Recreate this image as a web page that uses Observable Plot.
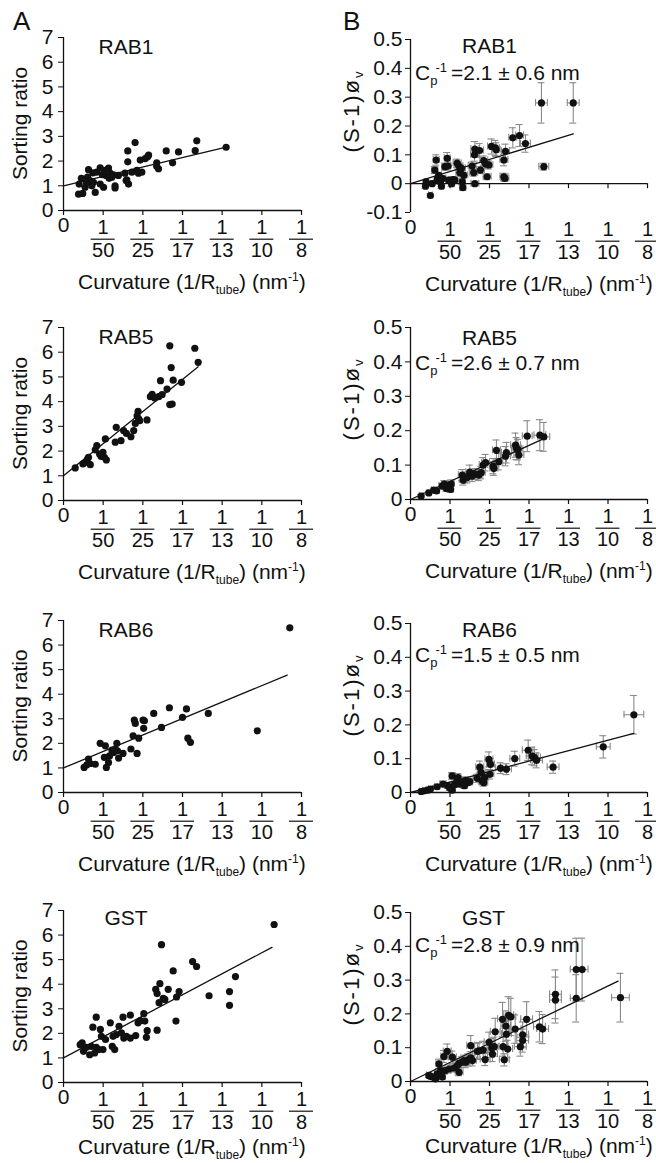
<!DOCTYPE html>
<html>
<head>
<meta charset="utf-8">
<script src="https://cdn.jsdelivr.net/npm/d3@7"></script>
<script src="https://cdn.jsdelivr.net/npm/@observablehq/plot@0.6"></script>
<style>
  html, body { margin: 0; padding: 0; background: #fff; }
  #fig { position: relative; width: 656px; height: 1163px; overflow: hidden; background: #fff; }
</style>
</head>
<body>
<div id="fig"></div>
<script>
// ---------------- tick labels / categories ----------------
const xTickValues = [0, 0.02, 0.04, 0.06, 0.08, 0.10, 0.12];
const xTickDenominators = ["50", "25", "17", "13", "10", "8"];
const sortYTicks = [0, 1, 2, 3, 4, 5, 6, 7];
const phiYTicksRab1 = [-0.1, 0, 0.1, 0.2, 0.3, 0.4, 0.5];
const phiYTicks = [0, 0.1, 0.2, 0.3, 0.4, 0.5];
const proteins = ["RAB1", "RAB5", "RAB6", "GST"];
const cpValues = ["2.1 ± 0.6", "2.6 ± 0.7", "1.5 ± 0.5", "2.8 ± 0.9"];

// ---------------- column A: sorting ratio ----------------
const rab1SortX = [0.0076,0.0097,0.0079,0.0109,0.0126,0.0121,0.0134,0.0151,0.0160,0.0143,0.0168,0.0185,0.0185,0.0202,0.0210,0.0215,0.0227,0.0235,0.0244,0.0252,0.0260,0.0260,0.0277,0.0310,0.0319,0.0328,0.0324,0.0324,0.0345,0.0361,0.0370,0.0378,0.0395,0.0387,0.0412,0.0429,0.0424,0.0470,0.0479,0.0470,0.0518,0.0550,0.0580,0.0664,0.0672,0.0820,0.0090,0.0116,0.0148,0.0196,0.0230,0.0316];
const rab1SortY = [0.66,0.69,1.07,0.94,1.65,1.35,1.21,1.14,0.73,1.00,1.55,1.73,1.07,0.94,1.62,1.42,1.72,1.51,1.35,1.44,1.00,0.91,1.42,1.51,1.24,1.07,1.97,2.41,1.55,2.75,1.62,1.51,1.55,2.04,2.10,2.24,2.17,1.93,1.69,1.79,2.41,1.93,2.37,2.42,2.82,2.56,1.30,1.12,1.52,1.45,1.30,1.21];
const rab1SortFitX = [0, 0.0821];
const rab1SortFitY = [1, 2.56];

const rab5SortX = [0.0059,0.0098,0.0115,0.0121,0.0135,0.0126,0.0160,0.0168,0.0182,0.0190,0.0199,0.0206,0.0216,0.0211,0.0261,0.0266,0.0290,0.0303,0.0317,0.0340,0.0354,0.0362,0.0371,0.0379,0.0376,0.0384,0.0421,0.0438,0.0447,0.0460,0.0480,0.0489,0.0497,0.0522,0.0536,0.0543,0.0553,0.0536,0.0548,0.0595,0.0662,0.0679];
const rab5SortY = [1.32,1.48,1.55,1.68,1.45,1.75,2.05,2.22,1.88,1.78,1.95,1.75,1.64,2.49,2.36,2.96,2.42,2.83,2.72,2.58,2.83,3.12,3.43,3.30,3.61,3.23,3.26,4.20,4.30,4.15,4.20,4.85,4.28,4.51,6.26,5.38,4.87,3.88,3.90,4.78,6.16,5.59];
const rab5SortFitX = [0, 0.0679];
const rab5SortFitY = [1, 5.41];

const rab6SortX = [0.0104,0.0118,0.0126,0.0135,0.0160,0.0185,0.0206,0.0211,0.0216,0.0227,0.0232,0.0244,0.0252,0.0260,0.0269,0.0272,0.0278,0.0300,0.0340,0.0351,0.0357,0.0362,0.0371,0.0379,0.0401,0.0408,0.0404,0.0455,0.0494,0.0534,0.0600,0.0620,0.0627,0.0640,0.0730,0.0977,0.1141];
const rab6SortY = [1.02,1.13,1.36,1.18,1.15,2.00,1.43,1.90,1.02,1.22,1.49,1.73,1.63,1.77,2.00,1.70,1.40,1.59,1.77,2.31,2.95,2.81,1.59,2.21,2.95,2.92,2.61,3.22,2.65,3.45,3.06,3.40,2.21,2.04,3.22,2.51,6.70];
const rab6SortFitX = [0, 0.1128];
const rab6SortFitY = [1, 4.78];

const gstSortX = [0.0094,0.0084,0.0101,0.0115,0.0132,0.0140,0.0148,0.0157,0.0165,0.0165,0.0179,0.0186,0.0191,0.0199,0.0212,0.0236,0.0246,0.0250,0.0258,0.0266,0.0280,0.0292,0.0300,0.0304,0.0317,0.0337,0.0337,0.0364,0.0376,0.0388,0.0405,0.0410,0.0422,0.0418,0.0472,0.0465,0.0472,0.0486,0.0482,0.0494,0.0503,0.0511,0.0528,0.0553,0.0567,0.0570,0.0583,0.0651,0.0671,0.0734,0.0837,0.0837,0.0867,0.1062];
const gstSortY = [1.61,1.54,1.27,1.43,1.13,1.47,2.25,1.20,2.66,1.43,1.34,2.16,1.88,1.34,1.75,2.43,1.47,1.88,1.34,1.95,2.29,2.02,2.66,1.81,1.88,2.74,1.81,1.91,2.43,2.52,2.80,2.50,2.11,1.84,2.13,3.79,3.62,4.02,3.25,5.61,3.42,3.38,3.79,4.54,2.50,3.48,3.70,4.92,4.72,3.53,3.70,3.14,4.31,6.43];
const gstSortFitX = [0, 0.1051];
const gstSortFitY = [1, 5.50];

// ---------------- column B: (S-1)phi_v with error bars ----------------
const rab1PhiX = [0.0076,0.0079,0.0101,0.0110,0.0123,0.0130,0.0135,0.0143,0.0152,0.0157,0.0164,0.0174,0.0186,0.0190,0.0194,0.0208,0.0216,0.0224,0.0236,0.0245,0.0250,0.0258,0.0262,0.0265,0.0270,0.0312,0.0320,0.0324,0.0326,0.0326,0.0350,0.0354,0.0371,0.0380,0.0388,0.0397,0.0410,0.0430,0.0434,0.0473,0.0473,0.0478,0.0481,0.0518,0.0552,0.0582,0.0663,0.0675,0.0824];
const rab1PhiY = [-0.009,0.006,-0.041,0.000,0.047,0.082,0.014,0.029,0.006,-0.009,0.018,0.059,0.088,0.061,0.012,0.000,0.014,0.012,0.071,0.061,0.038,0.053,0.006,-0.014,0.029,0.061,0.038,0.100,0.120,0.000,0.115,0.047,0.080,0.068,0.024,0.065,0.129,0.124,0.118,0.082,0.024,0.018,0.112,0.159,0.167,0.139,0.280,0.059,0.280];
const rab1PhiXErr = [0.001,0.001,0.001,0.001,0.0015,0.0015,0.001,0.0015,0.001,0.001,0.0015,0.0015,0.0015,0.0015,0.0015,0.0015,0.0015,0.0015,0.002,0.002,0.002,0.002,0.0015,0.0015,0.002,0.002,0.002,0.002,0.002,0.002,0.002,0.002,0.002,0.002,0.002,0.002,0.002,0.002,0.002,0.002,0.002,0.002,0.002,0.002,0.002,0.0025,0.003,0.0025,0.003];
const rab1PhiYErr = [0.008,0.008,0.006,0.008,0.012,0.018,0.010,0.010,0.008,0.008,0.010,0.012,0.020,0.014,0.010,0.010,0.010,0.010,0.014,0.014,0.012,0.012,0.010,0.008,0.010,0.014,0.012,0.022,0.026,0.008,0.024,0.012,0.016,0.014,0.010,0.014,0.026,0.026,0.024,0.020,0.012,0.010,0.025,0.035,0.038,0.030,0.070,0.012,0.070];
const rab1PhiFitX = [0, 0.0824];
const rab1PhiFitY = [0, 0.173];

const rab5PhiX = [0.0054,0.0093,0.0118,0.0132,0.0160,0.0172,0.0182,0.0194,0.0203,0.0206,0.0262,0.0267,0.0287,0.0300,0.0312,0.0329,0.0346,0.0358,0.0368,0.0380,0.0419,0.0422,0.0435,0.0447,0.0481,0.0486,0.0532,0.0537,0.0544,0.0549,0.0591,0.0655,0.0675];
const rab5PhiY = [0.010,0.019,0.027,0.025,0.039,0.045,0.032,0.037,0.029,0.045,0.071,0.056,0.064,0.080,0.068,0.074,0.071,0.078,0.100,0.107,0.097,0.090,0.143,0.110,0.126,0.136,0.158,0.148,0.145,0.129,0.184,0.187,0.182];
const rab5PhiXErr = [0.001,0.001,0.0012,0.0012,0.0015,0.0015,0.0015,0.0015,0.0015,0.0015,0.002,0.002,0.002,0.002,0.002,0.002,0.002,0.002,0.002,0.002,0.002,0.002,0.002,0.002,0.0025,0.0025,0.0025,0.0025,0.0025,0.0025,0.0025,0.003,0.003];
const rab5PhiYErr = [0.004,0.005,0.006,0.006,0.008,0.010,0.008,0.010,0.008,0.012,0.016,0.014,0.016,0.020,0.016,0.016,0.016,0.018,0.022,0.024,0.022,0.020,0.030,0.024,0.028,0.030,0.035,0.032,0.030,0.028,0.045,0.045,0.042];
const rab5PhiFitX = [0, 0.0675];
const rab5PhiFitY = [0, 0.177];

const rab6PhiX = [0.0054,0.0071,0.0088,0.0101,0.0135,0.0165,0.0189,0.0199,0.0211,0.0211,0.0223,0.0236,0.0241,0.0250,0.0262,0.0273,0.0279,0.0290,0.0300,0.0338,0.0351,0.0358,0.0363,0.0371,0.0375,0.0397,0.0402,0.0405,0.0456,0.0486,0.0528,0.0596,0.0616,0.0628,0.0638,0.0722,0.0976,0.1131];
const rab6PhiY = [0.003,0.005,0.007,0.010,0.017,0.025,0.020,0.013,0.049,0.007,0.023,0.034,0.044,0.025,0.029,0.020,0.036,0.029,0.032,0.042,0.075,0.059,0.034,0.029,0.044,0.098,0.054,0.083,0.072,0.069,0.100,0.125,0.108,0.103,0.095,0.075,0.135,0.230];
const rab6PhiXErr = [0.001,0.001,0.001,0.001,0.0012,0.0015,0.0015,0.0015,0.0015,0.0015,0.0015,0.0015,0.0015,0.0015,0.0015,0.0015,0.0015,0.0015,0.0015,0.002,0.002,0.002,0.002,0.002,0.002,0.002,0.002,0.002,0.0025,0.0025,0.0025,0.003,0.003,0.003,0.003,0.003,0.0035,0.005];
const rab6PhiYErr = [0.003,0.004,0.004,0.005,0.006,0.008,0.008,0.006,0.010,0.005,0.008,0.010,0.012,0.008,0.010,0.008,0.010,0.008,0.010,0.012,0.018,0.014,0.010,0.010,0.012,0.022,0.014,0.018,0.016,0.016,0.022,0.030,0.026,0.024,0.022,0.018,0.033,0.057];
const rab6PhiFitX = [0, 0.1131];
const rab6PhiFitY = [0, 0.175];

const gstPhiX = [0.0093,0.0102,0.0114,0.0127,0.0136,0.0144,0.0153,0.0161,0.0169,0.0175,0.0186,0.0195,0.0212,0.0220,0.0237,0.0246,0.0246,0.0259,0.0271,0.0280,0.0293,0.0305,0.0305,0.0314,0.0339,0.0347,0.0368,0.0378,0.0398,0.0412,0.0415,0.0424,0.0429,0.0469,0.0466,0.0475,0.0483,0.0486,0.0492,0.0497,0.0508,0.0530,0.0556,0.0568,0.0568,0.0588,0.0653,0.0669,0.0734,0.0734,0.0839,0.0869,0.0839,0.1063];
const gstPhiY = [0.018,0.015,0.013,0.008,0.023,0.052,0.032,0.013,0.074,0.032,0.089,0.037,0.072,0.040,0.047,0.027,0.054,0.057,0.062,0.057,0.064,0.070,0.106,0.062,0.089,0.091,0.093,0.065,0.116,0.099,0.081,0.103,0.147,0.103,0.184,0.064,0.164,0.140,0.096,0.196,0.191,0.155,0.103,0.138,0.121,0.184,0.162,0.155,0.258,0.241,0.331,0.331,0.246,0.248];
const gstPhiXErr = [0.0012,0.0012,0.0012,0.0012,0.0015,0.0015,0.0015,0.0015,0.0015,0.0015,0.002,0.002,0.002,0.002,0.002,0.002,0.002,0.002,0.002,0.002,0.002,0.002,0.002,0.002,0.0025,0.0025,0.0025,0.0025,0.0025,0.0025,0.0025,0.0025,0.0025,0.0025,0.0025,0.0025,0.0025,0.0025,0.0025,0.0025,0.0025,0.003,0.003,0.003,0.003,0.003,0.003,0.003,0.003,0.003,0.003,0.003,0.003,0.0045];
const gstPhiYErr = [0.006,0.006,0.006,0.005,0.008,0.014,0.010,0.006,0.018,0.010,0.022,0.012,0.018,0.012,0.014,0.010,0.014,0.016,0.016,0.016,0.018,0.018,0.030,0.016,0.024,0.024,0.026,0.018,0.030,0.028,0.022,0.028,0.040,0.028,0.050,0.018,0.045,0.040,0.026,0.055,0.055,0.042,0.028,0.038,0.034,0.052,0.045,0.043,0.072,0.068,0.093,0.093,0.070,0.072];
const gstPhiFitX = [0, 0.1051];
const gstPhiFitY = [0, 0.297];

// ---------------- layout ----------------
const FONT = '"Liberation Sans", Arial, Helvetica, sans-serif';
const INK = "#111";
const GRAY = "#8a8a8a";
const FS = 21;
const FRAC_FS = 20;
const MT = 40, MB = 95;

const rows = [
  {aTop: 37,  aH: 173, bTop: 39,  bH: 173, aTitle: 54,  bTitle: 53,  cp: 80,  xLab: 79},
  {aTop: 327, aH: 173, bTop: 327, bH: 172, aTitle: 344, bTitle: 345, cp: 370, xLab: 79},
  {aTop: 620, aH: 172, bTop: 623, bH: 169, aTitle: 637, bTitle: 637, cp: 662, xLab: 79},
  {aTop: 910, aH: 172, bTop: 912, bH: 169, aTitle: 925, bTitle: 925, cp: 952, xLab: 72}
];

const sortSets = [
  [rab1SortX, rab1SortY, rab1SortFitX, rab1SortFitY],
  [rab5SortX, rab5SortY, rab5SortFitX, rab5SortFitY],
  [rab6SortX, rab6SortY, rab6SortFitX, rab6SortFitY],
  [gstSortX, gstSortY, gstSortFitX, gstSortFitY]
];
const phiSets = [
  [rab1PhiX, rab1PhiY, rab1PhiXErr, rab1PhiYErr, rab1PhiFitX, rab1PhiFitY],
  [rab5PhiX, rab5PhiY, rab5PhiXErr, rab5PhiYErr, rab5PhiFitX, rab5PhiFitY],
  [rab6PhiX, rab6PhiY, rab6PhiXErr, rab6PhiYErr, rab6PhiFitX, rab6PhiFitY],
  [gstPhiX, gstPhiY, gstPhiXErr, gstPhiYErr, gstPhiFitX, gstPhiFitY]
];

const fig = document.getElementById("fig");
const fracs = xTickValues.slice(1).map((v, i) => ({v, d: xTickDenominators[i]}));

function makePanel(o) {
  const svgTop = o.top - MT;
  const H = MT + o.plotH + MB;
  const marks = [];
  if (o.isB) {
    const capOpts = {stroke: GRAY, strokeWidth: 1.1};
    marks.push(
      Plot.ruleX(o.pts, {x: "x", y1: d => d.y - d.ye, y2: d => d.y + d.ye, ...capOpts}),
      Plot.ruleY(o.pts, {y: d => d.y - d.ye, x1: "x", x2: "x", insetLeft: -3.5, insetRight: -3.5, ...capOpts}),
      Plot.ruleY(o.pts, {y: d => d.y + d.ye, x1: "x", x2: "x", insetLeft: -3.5, insetRight: -3.5, ...capOpts}),
      Plot.ruleY(o.pts, {y: "y", x1: d => d.x - d.xe, x2: d => d.x + d.xe, ...capOpts}),
      Plot.ruleX(o.pts, {x: d => d.x - d.xe, y1: "y", y2: "y", insetTop: -3.5, insetBottom: -3.5, ...capOpts}),
      Plot.ruleX(o.pts, {x: d => d.x + d.xe, y1: "y", y2: "y", insetTop: -3.5, insetBottom: -3.5, ...capOpts})
    );
  }
  marks.push(
    Plot.ruleX([0], {stroke: INK, strokeWidth: 1.3}),
    Plot.ruleY([0], {stroke: INK, strokeWidth: 1.3}),
    Plot.ruleX(xTickValues, {x: d => d, y1: 0, y2: 0, insetBottom: -5, stroke: INK, strokeWidth: 1.2}),
    Plot.text([0], {x: d => d, text: () => "0", frameAnchor: "bottom", lineAnchor: "middle", dy: 14.5, fontSize: FS}),
    Plot.text(fracs, {x: "v", text: () => "1", frameAnchor: "bottom", lineAnchor: "middle", dy: 17.5, fontSize: FRAC_FS}),
    Plot.ruleY(fracs, {y: () => o.yDomain[0], x1: "v", x2: "v", insetLeft: -12, insetRight: -12, dy: 28.7, stroke: INK, strokeWidth: 1.2}),
    Plot.text(fracs, {x: "v", text: "d", frameAnchor: "bottom", lineAnchor: "middle", dy: 40, fontSize: FRAC_FS}),
    Plot.line(o.fit, {x: "x", y: "y", stroke: INK, strokeWidth: 1.3}),
    Plot.dot(o.pts, {x: "x", y: "y", r: 3.6, fill: INK})
  );
  const svg = Plot.plot({
    width: o.width,
    height: H,
    marginLeft: o.mL,
    marginRight: o.mR,
    marginTop: MT,
    marginBottom: MB,
    x: {domain: [0, 0.12], axis: null},
    y: {domain: o.yDomain, ticks: o.yTicks, tickFormat: o.yFmt, tickSize: 5, tickPadding: o.tickPad, label: null},
    style: {fontSize: FS + "px", fontFamily: FONT, background: "none", overflow: "visible", color: INK},
    marks
  });
  svg.style.position = "absolute";
  svg.style.left = o.left + "px";
  svg.style.top = svgTop + "px";
  svg.style.maxWidth = "none";

  const s = d3.select(svg);
  // y-axis title
  if (!o.isB) {
    s.append("text").attr("transform", `translate(27,${MT + o.plotH / 2}) rotate(-90)`)
      .attr("text-anchor", "middle").attr("font-size", FS).attr("fill", INK).text("Sorting ratio");
  } else {
    const t = s.append("text").attr("transform", `translate(29,${MT + 72}) rotate(-90)`)
      .attr("text-anchor", "middle").attr("font-size", 22).attr("letter-spacing", 2).attr("fill", INK);
    t.append("tspan").text("(S-1)ø");
    t.append("tspan").attr("font-size", 13).attr("dy", 4).text("v");
  }
  // x-axis title
  const xt = s.append("text").attr("x", o.mL + 15).attr("y", MT + o.plotH + o.xLab)
    .attr("text-anchor", "start").attr("font-size", FS).attr("fill", INK);
  xt.append("tspan").text("Curvature (1/R");
  xt.append("tspan").attr("font-size", 12).attr("dy", 5).text("tube");
  xt.append("tspan").attr("dy", -5).text(") (nm");
  xt.append("tspan").attr("font-size", 12).attr("dy", -8).text("-1");
  xt.append("tspan").attr("dy", 8).text(")");
  // panel title
  if (!o.isB) {
    s.append("text").attr("x", o.mL + 63).attr("y", o.titleY - svgTop).attr("text-anchor", "middle")
      .attr("font-size", FS).attr("fill", INK).text(o.name);
  } else {
    s.append("text").attr("x", o.mL + 52).attr("y", o.titleY - svgTop).attr("text-anchor", "start")
      .attr("font-size", FS).attr("fill", INK).text(o.name);
    const c = s.append("text").attr("x", o.mL + 5).attr("y", o.cpY - svgTop).attr("text-anchor", "start")
      .attr("font-size", FS).attr("fill", INK);
    c.append("tspan").text("C");
    c.append("tspan").attr("font-size", 13).attr("dy", 5).text("p");
    c.append("tspan").attr("font-size", 13).attr("dy", -13).attr("dx", -2).text("-1");
    c.append("tspan").attr("dy", 8).attr("dx", 4).text("=" + o.cp + " nm");
  }
  if (o.letter) {
    s.append("text").attr("x", 13).attr("y", o.letterY - svgTop).attr("text-anchor", "start")
      .attr("font-size", 26).attr("fill", INK).text(o.letter);
  }
  fig.appendChild(svg);
}

const fmtPhi = d => (d === 0 ? "0" : d.toFixed(1));

rows.forEach((r, i) => {
  const [sx, sy, sfx, sfy] = sortSets[i];
  makePanel({
    isB: false, left: 0, width: 330, mL: 63, mR: 29, top: r.aTop, plotH: r.aH, xLab: r.xLab,
    yDomain: [0, 7], yTicks: sortYTicks, yFmt: d => String(d), tickPad: 5,
    pts: sx.map((x, k) => ({x, y: sy[k]})),
    fit: sfx.map((x, k) => ({x, y: sfy[k]})),
    name: proteins[i], titleY: r.aTitle,
    letter: i === 0 ? "A" : null, letterY: 30
  });
  const [px, py, pxe, pye, pfx, pfy] = phiSets[i];
  makePanel({
    isB: true, left: 330, width: 326, mL: 80, mR: 9, top: r.bTop, plotH: r.bH, xLab: r.xLab,
    yDomain: i === 0 ? [-0.1, 0.5] : [0, 0.5], yTicks: i === 0 ? phiYTicksRab1 : phiYTicks, yFmt: fmtPhi, tickPad: 3,
    pts: px.map((x, k) => ({x, y: py[k], xe: pxe[k], ye: pye[k]})),
    fit: pfx.map((x, k) => ({x, y: pfy[k]})),
    name: proteins[i], titleY: r.bTitle, cp: cpValues[i], cpY: r.cp,
    letter: i === 0 ? "B" : null, letterY: 30
  });
});
</script>
</body>
</html>
